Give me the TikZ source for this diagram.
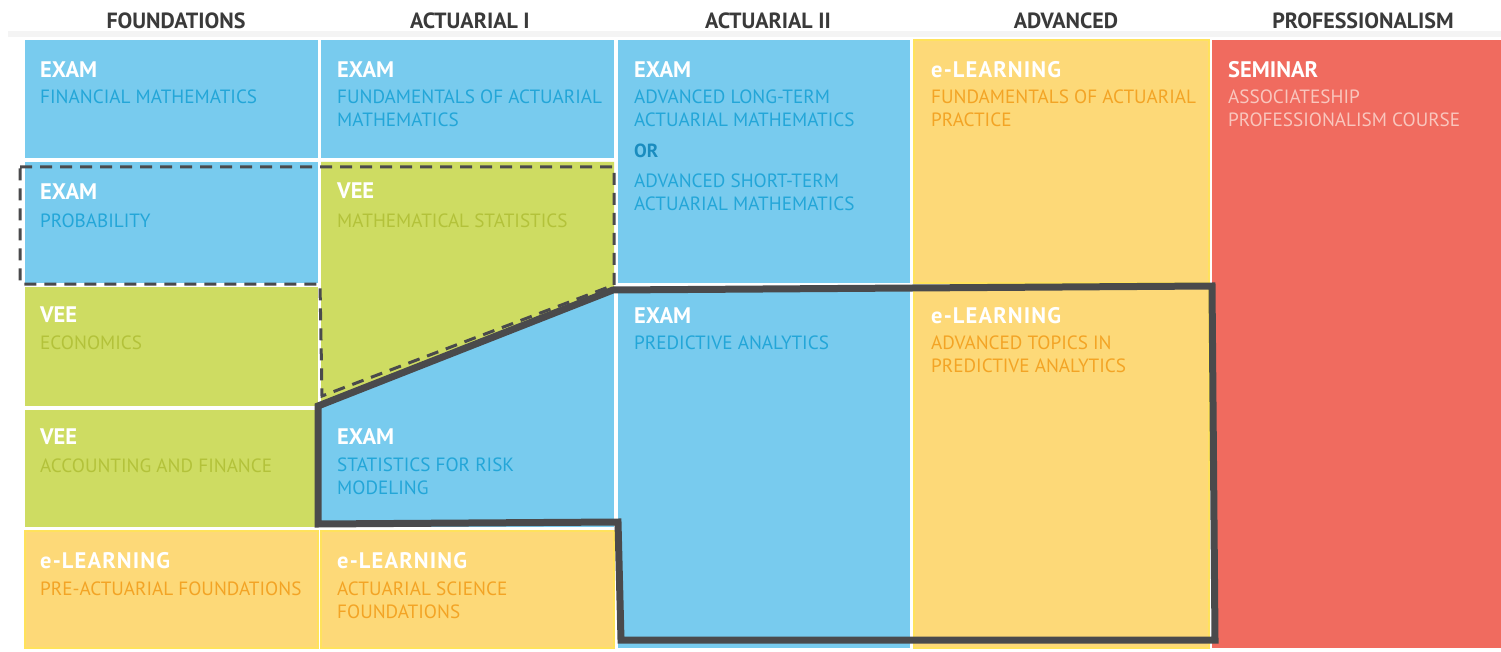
\documentclass[tikz,border=0pt]{standalone}
\usepackage{fontspec}
\setmainfont{PT Sans}
\definecolor{cblue}{HTML}{78CBEE}
\definecolor{cgreen}{HTML}{CEDC62}
\definecolor{cyellow}{HTML}{FDD978}
\definecolor{cyedge}{HTML}{FFE25C}
\definecolor{cred}{HTML}{F06B5F}
\definecolor{tblue}{HTML}{23A6D8}
\definecolor{tblueor}{HTML}{1A8CBF}
\definecolor{tgreen}{HTML}{B3C23A}
\definecolor{tyellow}{HTML}{F3A425}
\definecolor{tred}{HTML}{F9C6BD}
\definecolor{hdgray}{HTML}{3A3A3A}
\definecolor{outl}{HTML}{4A4A4C}
\definecolor{bgg}{HTML}{F4F4F4}
\newcommand\myheadfont{\fontsize{22.5}{24}\selectfont\bfseries}
\newcommand\mysubfont{\fontsize{19.2}{23}\selectfont}
\newcommand\mycolfont{\fontsize{22}{24}\selectfont\bfseries}
\newcommand\elearn{\addfontfeature{LetterSpace=5}e-LEARNING}
\begin{document}
\begin{tikzpicture}[x=1pt,y=-1pt,
  cellbox/.style={inner sep=0pt, outer sep=0pt, anchor=north west, draw=none},
  ycell/.style={cellbox, fill=cyellow, draw=cyedge, line width=1.5pt},
  head/.style={anchor=north west, inner sep=0pt, text=white, font=\myheadfont},
  sub/.style={anchor=north west, inner sep=0pt, align=left, font=\mysubfont},
  colhead/.style={inner sep=0pt, text=hdgray, font=\mycolfont},
  dashline/.style={draw=outl, line width=3pt, dash pattern=on 12pt off 8pt},
  solidline/.style={draw=outl, line width=7pt, line join=miter},
]
\useasboundingbox (0,0) rectangle (1501,652);
\fill[white] (0,0) rectangle (1501,652);
\fill[bgg] (8,31) rectangle (1501,37);

% column headers
\node[colhead] (h1) at (176,21) {FOUNDATIONS};
\node[colhead] (h2) at (470,21) {ACTUARIAL I};
\node[colhead] (h3) at (768,21) {ACTUARIAL II};
\node[colhead] (h4) at (1066,21) {ADVANCED};
\node[colhead] (h5) at (1363,21) {PROFESSIONALISM};

% cells
\node[cellbox, fill=cblue, minimum width=293pt, minimum height=118pt] (fm) at (25,40) {};
\node[cellbox, fill=cblue, minimum width=293pt, minimum height=121pt] (prob) at (25,162) {};
\node[cellbox, fill=cgreen, minimum width=293pt, minimum height=119pt] (econ) at (25,287) {};
\node[cellbox, fill=cgreen, minimum width=293pt, minimum height=117pt] (acc) at (25,410) {};
\node[ycell, minimum width=293pt, minimum height=117pt] (pre) at (25,531) {};
\node[cellbox, fill=cblue, minimum width=293pt, minimum height=118pt] (fam) at (321,40) {};
\node[cellbox, fill=cblue, minimum width=293pt, minimum height=365pt] (mid) at (321,162) {};
\fill[cgreen] (321,162) -- (614,162) -- (614,287) -- (321,402) -- cycle;
\node[ycell, minimum width=293pt, minimum height=117pt] (asf) at (321,531) {};
\node[cellbox, fill=cblue, minimum width=292pt, minimum height=243pt] (ltam) at (618,40) {};
\node[cellbox, fill=cblue, minimum width=292pt, minimum height=361pt] (pa) at (618,287) {};
\node[ycell, minimum width=295pt, minimum height=243pt] (fap) at (914,40) {};
\node[ycell, minimum width=295pt, minimum height=361pt] (atpa) at (914,287) {};
\node[cellbox, fill=cred, minimum width=289pt, minimum height=608pt] (apc) at (1212,40) {};

% texts
\node[head] (fmh) at (40,61) {EXAM};
\node[sub, text=tblue] (fms) at (40,90) {FINANCIAL MATHEMATICS};
\node[head] (probh) at (40,183) {EXAM};
\node[sub, text=tblue] (probs) at (40,214) {PROBABILITY};
\node[head] (econh) at (40,307) {VEE};
\node[sub, text=tgreen] (econs) at (40,336) {ECONOMICS};
\node[head] (acch) at (40,429) {VEE};
\node[sub, text=tgreen] (accs) at (40,459) {ACCOUNTING AND FINANCE};
\node[head] (preh) at (40,552) {\elearn};
\node[sub, text=tyellow] (pres) at (40,582) {PRE-ACTUARIAL FOUNDATIONS};

\node[head] (famh) at (337,61) {EXAM};
\node[sub, text=tblue] (fams) at (337,90) {FUNDAMENTALS OF ACTUARIAL\\MATHEMATICS};
\node[head] (msh) at (337,183) {VEE};
\node[sub, text=tgreen] (mss) at (337,214) {MATHEMATICAL STATISTICS};
\node[head] (srmh) at (337,428) {EXAM};
\node[sub, text=tblue] (srms) at (337,458) {STATISTICS FOR RISK\\MODELING};
\node[head] (asfh) at (337,552) {\elearn};
\node[sub, text=tyellow] (asfs) at (337,582) {ACTUARIAL SCIENCE\\FOUNDATIONS};

\node[head] (ltamh) at (634,61) {EXAM};
\node[sub, text=tblue] (ltams) at (634,90) {ADVANCED LONG-TERM\\ACTUARIAL MATHEMATICS};
\node[head, text=tblueor, font=\fontsize{19}{22}\selectfont\bfseries] (orh) at (634,144) {OR};
\node[sub, text=tblue] (stams) at (634,174) {ADVANCED SHORT-TERM\\ACTUARIAL MATHEMATICS};
\node[head] (pah) at (634,307) {EXAM};
\node[sub, text=tblue] (pas) at (634,336) {PREDICTIVE ANALYTICS};

\node[head] (faph) at (931,61) {\elearn};
\node[sub, text=tyellow] (faps) at (931,90) {FUNDAMENTALS OF ACTUARIAL\\PRACTICE};
\node[head] (atpah) at (931,307) {\elearn};
\node[sub, text=tyellow] (atpas) at (931,336) {ADVANCED TOPICS IN\\PREDICTIVE ANALYTICS};

\node[head] (apch) at (1228,61) {SEMINAR};
\node[sub, text=tred] (apcs) at (1228,90) {ASSOCIATESHIP\\PROFESSIONALISM COURSE};

% outlines
\draw[dashline] (20,167) -- (614,167) -- (614,285) -- (322,396) -- (320,284) -- (20,284) -- cycle;
\draw[solidline] (318,406) -- (613,290) -- (1212,286) -- (1215,640) -- (621,640) -- (618,522) -- (318,524) -- cycle;
\end{tikzpicture}
\end{document}
